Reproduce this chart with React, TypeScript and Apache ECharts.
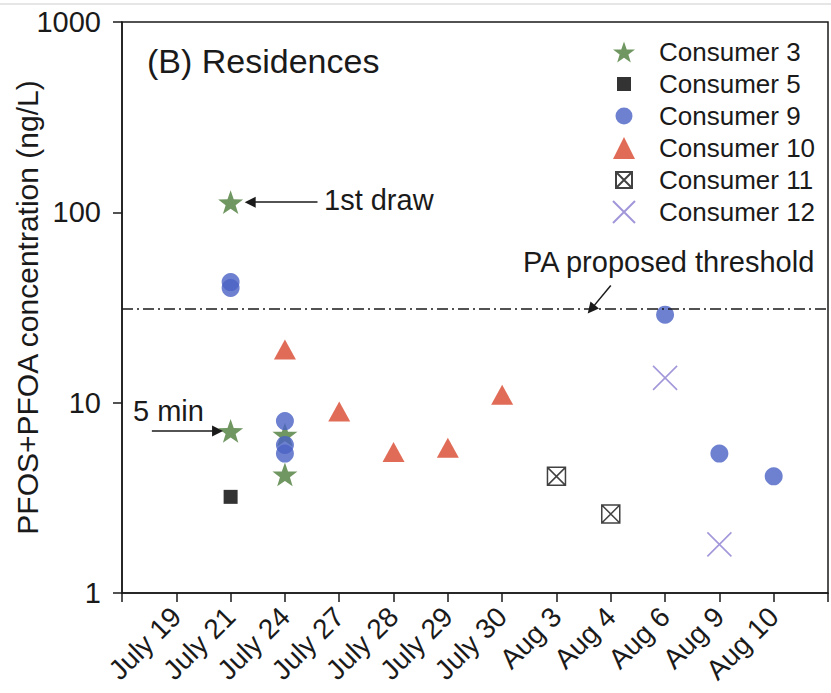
import React, { useEffect, useRef } from "react";
import * as echarts from "echarts";

const dates = ["July 19", "July 21", "July 24", "July 27", "July 28", "July 29", "July 30", "Aug 3", "Aug 4", "Aug 6", "Aug 9", "Aug 10"];

const consumer3: [string, number][] = [["July 21", 113], ["July 21", 7.1], ["July 24", 6.8], ["July 24", 4.2]];
const consumer5: [string, number][] = [["July 21", 3.2]];
const consumer9: [string, number][] = [["July 21", 43], ["July 21", 40], ["July 24", 8.0], ["July 24", 6.0], ["July 24", 5.4], ["Aug 6", 29], ["Aug 9", 5.4], ["Aug 10", 4.1]];
const consumer10: [string, number][] = [["July 24", 19], ["July 27", 9.0], ["July 28", 5.5], ["July 29", 5.8], ["July 30", 11]];
const consumer11: [string, number][] = [["Aug 3", 4.1], ["Aug 4", 2.6]];
const consumer12: [string, number][] = [["Aug 6", 13.5], ["Aug 9", 1.8]];
const threshold = 31;
const yTicks = [1, 10, 100, 1000];

const FONT = "'Liberation Sans', Arial, Helvetica, sans-serif";
const INK = "#1a1a1a";

const STAR = "path://M50,0 L61.8,34.2 L97.55,34.55 L69,56.5 L79.39,90.45 L50,70.5 L20.61,90.45 L31,56.5 L2.45,34.55 L38.2,34.2 Z";
const BOXX = "path://M0,0 L16,0 L16,16 L0,16 Z M0,0 L16,16 M16,0 L0,16";
const XMARK = "path://M0,0 L20,20 M20,0 L0,20";

const legendIcons: Record<string, string> = {
  "Consumer 3": STAR,
  "Consumer 5": "path://M0,0 M22,22 M4,4 L18,4 L18,18 L4,18 Z",
  "Consumer 9": "path://M0,0 M22,22 M2.5,11 A8.5,8.5 0 1 0 19.5,11 A8.5,8.5 0 1 0 2.5,11 Z",
  "Consumer 10": "triangle",
  "Consumer 11": "path://M0,0 M22,22 M3,3 L19,3 L19,19 L3,19 Z M3,3 L19,19 M19,3 L3,19",
  "Consumer 12": "path://M0,0 L22,22 M22,0 L0,22",
};

function toPoints(arr: [string, number][]) {
  return arr.map(([d, v]) => [dates.indexOf(d) + 1, v]);
}

export default function App() {
  const ref = useRef<HTMLDivElement>(null);
  useEffect(() => {
    const chart = echarts.init(ref.current!, null, { renderer: "svg" });
    const axisLine = { show: true, onZero: false, lineStyle: { color: INK, width: 1.5 } };
    const axisTick = { show: true, length: 9, lineStyle: { color: INK, width: 1.5 } };
    const names = ["Consumer 3", "Consumer 5", "Consumer 9", "Consumer 10", "Consumer 11", "Consumer 12"];
    chart.setOption({
      animation: false,
      backgroundColor: "#fff",
      grid: {
        left: 122, right: 3, top: 22, bottom: 100,
        containLabel: false, outerBoundsMode: "none",
        show: true, borderColor: INK, borderWidth: 1.5,
      },
      xAxis: {
        type: "value",
        min: 0,
        max: dates.length + 1,
        interval: 1,
        axisLine,
        axisTick,
        splitLine: { show: false },
        axisLabel: {
          rotate: 45,
          fontSize: 28,
          color: INK,
          fontFamily: FONT,
          margin: 19,
          showMinLabel: true,
          showMaxLabel: true,
          formatter: (v: number) => dates[v - 1] ?? "",
        },
      },
      yAxis: {
        type: "log",
        logBase: 10,
        min: yTicks[0],
        max: yTicks[yTicks.length - 1],
        axisLine,
        axisTick,
        splitLine: { show: false },
        minorTick: { show: false },
        axisLabel: { fontSize: 29, color: INK, fontFamily: FONT, margin: 21, formatter: (v: number) => String(Math.round(v)) },
        name: "PFOS+PFOA concentration (ng/L)",
        nameLocation: "middle",
        nameGap: 80,
        nameMoveOverlap: false,
        nameTextStyle: { fontSize: 30, color: INK, fontFamily: FONT },
      },
      legend: {
        orient: "vertical",
        left: 607,
        top: 34,
        padding: 5,
        itemWidth: 22,
        itemHeight: 22,
        itemGap: 6,
        selectedMode: false,
        textStyle: { fontSize: 26, color: INK, fontFamily: FONT, padding: [0, 0, 0, 19] },
        data: names.map((n) => ({ name: n, icon: legendIcons[n] })),
      },
      series: [
        {
          name: "Consumer 3",
          type: "scatter",
          symbol: STAR,
          symbolSize: 25,
          symbolKeepAspect: true,
          itemStyle: { color: "#4c7d3a" },
          data: toPoints(consumer3),
          markLine: {
            silent: true,
            symbol: ["none", "triangle"],
            symbolSize: 11,
            label: { show: false },
            lineStyle: { color: INK, width: 1.5, type: "solid" },
            data: [
              [{ coord: [3.6, 113] }, { coord: [2.36, 113] }],
              [{ coord: [0.55, 7.1] }, { coord: [1.76, 7.1] }],
              [{ coord: [9.0, 41.3] }, { coord: [8.64, threshold] }],
            ],
          },
        },
        {
          name: "Consumer 5",
          type: "scatter",
          symbol: "rect",
          symbolSize: 14,
          itemStyle: { color: "#000" },
          data: toPoints(consumer5),
          markLine: {
            silent: true,
            symbol: ["none", "none"],
            label: { show: false },
            lineStyle: { color: INK, width: 1.5, type: [11, 4, 2, 4] },
            data: [{ yAxis: threshold }],
          },
        },
        {
          name: "Consumer 9",
          type: "scatter",
          symbol: "circle",
          symbolSize: 18,
          itemStyle: { color: "#4a62c4" },
          data: toPoints(consumer9),
        },
        {
          name: "Consumer 10",
          type: "scatter",
          symbol: "triangle",
          symbolSize: [22, 20],
          itemStyle: { color: "#d8472e" },
          data: toPoints(consumer10),
        },
        {
          name: "Consumer 11",
          type: "scatter",
          symbol: BOXX,
          symbolSize: 18,
          itemStyle: { color: "#fff", borderColor: "#111", borderWidth: 1.5 },
          data: toPoints(consumer11),
        },
        {
          name: "Consumer 12",
          type: "scatter",
          symbol: XMARK,
          symbolSize: 24,
          itemStyle: { color: "rgba(0,0,0,0)", borderColor: "#8a7dd0", borderWidth: 1.6 },
          data: toPoints(consumer12),
        },
      ],
      graphic: [
        { type: "rect", silent: true, shape: { x: 0, y: 3, width: 831, height: 2 }, style: { fill: "#e6e6e6" } },
        { type: "text", x: 147, y: 61, style: { text: "(B) Residences", fontSize: 34, fontFamily: FONT, fill: INK, verticalAlign: "middle" } },
        { type: "text", x: 324, y: 200, style: { text: "1st draw", fontSize: 29, fontFamily: FONT, fill: INK, verticalAlign: "middle" } },
        { type: "text", x: 133, y: 411, style: { text: "5 min", fontSize: 29, fontFamily: FONT, fill: INK, verticalAlign: "middle" } },
        { type: "text", x: 523, y: 262, style: { text: "PA proposed threshold", fontSize: 29, fontFamily: FONT, fill: INK, verticalAlign: "middle" } },
      ],
    });
    return () => chart.dispose();
  }, []);
  return <div ref={ref} style={{ position: "absolute", left: 0, top: 0, width: 831, height: 693, background: "#fff" }} />;
}
